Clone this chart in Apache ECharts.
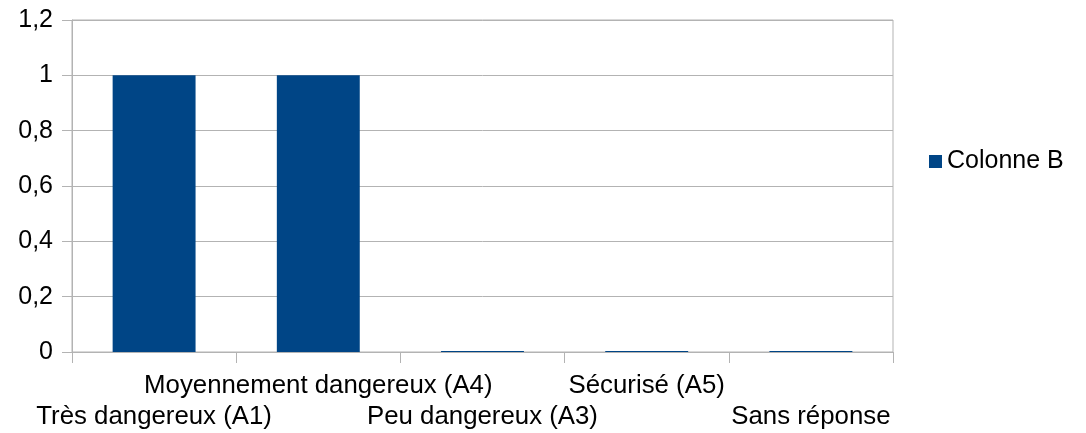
<!DOCTYPE html>
<html><head><meta charset="utf-8">
<script src="https://cdn.jsdelivr.net/npm/echarts@6/dist/echarts.min.js"></script>
<style>html,body{margin:0;padding:0;background:#fff}#c{width:1086px;height:433px}</style>
</head><body><div id="c"></div>
<script>
const categories = ["Très dangereux (A1)", "Moyennement dangereux (A4)", "Peu dangereux (A3)", "Sécurisé (A5)", "Sans réponse"];
const colonneB = [1, 1, 0, 0, 0];
const seriesName = "Colonne B";
const yTicks = [0, 0.2, 0.4, 0.6, 0.8, 1, 1.2];

const chart = echarts.init(document.getElementById('c'), null, {renderer: 'canvas'});
const font = "Liberation Sans";
const grey = '#b3b3b3';
const fs = 25;
chart.setOption({
  animation: false,
  textStyle: {fontFamily: font},
  grid: {left: 72, right: 193, top: 20, bottom: 81, show: true, borderColor: grey, borderWidth: 1, containLabel: false},
  legend: {
    data: [seriesName], left: 924, top: 144, orient: 'vertical', icon: 'rect',
    itemWidth: 13, itemHeight: 13, itemGap: 10,
    textStyle: {fontFamily: font, fontSize: fs, color: '#000', padding: [0,0,0,0]}
  },
  xAxis: {
    type: 'category', data: categories,
    axisLine: {show: true, lineStyle: {color: grey}},
    axisTick: {show: true, length: 11, lineStyle: {color: grey}, alignWithLabel: false},
    axisLabel: {
      interval: 0, hideOverlap: false, fontFamily: font, fontSize: 25.8, color: '#000',
      lineHeight: 31, margin: 18,
      formatter: (v, i) => (i % 2 === 0 ? '\n' + v : v)
    },
    splitLine: {show: false}
  },
  yAxis: {
    type: 'value', min: 0, max: 1.2, interval: 0.2,
    axisLine: {show: true, lineStyle: {color: grey}},
    axisTick: {show: true, length: 10, lineStyle: {color: grey}},
    splitLine: {show: true, lineStyle: {color: grey, width: 1}},
    axisLabel: {
      fontFamily: font, fontSize: fs, color: '#000', margin: 19,
      formatter: v => {
        const t = yTicks.find(x => Math.abs(x - v) < 1e-9);
        return String(t !== undefined ? t : v).replace('.', ',');
      }
    }
  },
  series: [{
    name: seriesName, type: 'bar', data: colonneB,
    barWidth: '50.5%', barMinHeight: 1,
    itemStyle: {color: '#004586'}
  }]
});
</script></body></html>
